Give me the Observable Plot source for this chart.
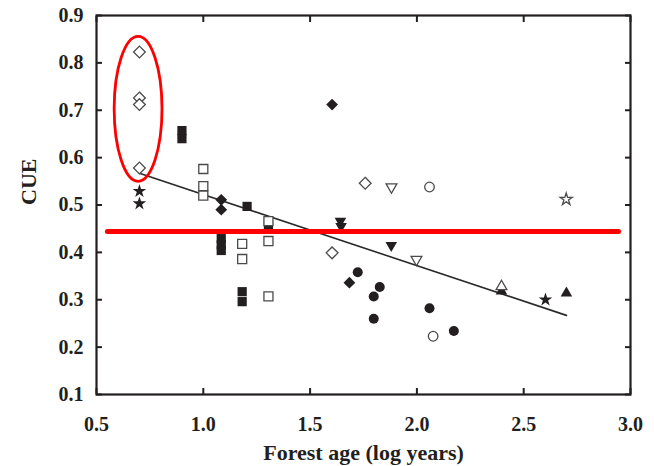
<!DOCTYPE html>
<html>
<head>
<meta charset="utf-8">
<script src="https://cdn.jsdelivr.net/npm/d3@7"></script>
<script src="https://cdn.jsdelivr.net/npm/@observablehq/plot@0.6"></script>
<style>
  html, body { margin: 0; padding: 0; background: #fff; }
</style>
</head>
<body>
<div id="chart"></div>
<script>
// ---- axis ticks ----
const xTicks = [0.5, 1.0, 1.5, 2.0, 2.5, 3.0];
const yTicks = [0.1, 0.2, 0.3, 0.4, 0.5, 0.6, 0.7, 0.8, 0.9];
const xTitle = "Forest age (log years)";
const yTitle = "CUE";

// ---- data series (forest age in log years, CUE) ----
const openDiamondX = [0.701, 0.701, 0.701, 0.701, 1.758, 1.603];
const openDiamondY = [0.823, 0.726, 0.712, 0.578, 0.546, 0.399];

const filledDiamondX = [1.084, 1.084, 1.603, 1.684];
const filledDiamondY = [0.511, 0.490, 0.712, 0.336];

const filledSquareX = [0.9, 0.9, 1.084, 1.084, 1.084, 1.205, 1.305, 1.182, 1.182];
const filledSquareY = [0.657, 0.640, 0.429, 0.416, 0.404, 0.497, 0.457, 0.317, 0.296];

const openSquareX = [1.0, 1.0, 1.0, 1.182, 1.182, 1.305, 1.305, 1.305];
const openSquareY = [0.576, 0.540, 0.520, 0.418, 0.386, 0.466, 0.424, 0.307];

const filledStarX = [0.701, 0.701, 2.602];
const filledStarY = [0.529, 0.503, 0.300];

const openStarX = [2.699];
const openStarY = [0.512];

const filledCircleX = [1.723, 1.826, 1.798, 1.798, 2.059, 2.173];
const filledCircleY = [0.358, 0.327, 0.307, 0.260, 0.282, 0.234];

const openCircleX = [2.059, 2.076];
const openCircleY = [0.538, 0.223];

const filledTriDownX = [1.642, 1.645, 1.880];
const filledTriDownY = [0.466, 0.455, 0.415];

const openTriDownX = [1.881, 1.998];
const openTriDownY = [0.538, 0.385];

const filledTriUpX = [2.396, 2.700];
const filledTriUpY = [0.318, 0.314];

const openTriUpX = [2.396];
const openTriUpY = [0.328];

// regression line end points
const fitX = [0.701, 2.700];
const fitY = [0.567, 0.267];

// red reference line
const refLineX = [0.551, 2.944];
const refLineY = [0.444, 0.444];

// red ellipse highlight (center and radii, data units)
const ellipseCenter = [0.697, 0.702];
const ellipseRadii = [0.112, 0.153];

// ---- styling ----
const ink = "#231f20";
const openStroke = "#4a4a4a";
const font = "'Liberation Serif', 'Times New Roman', serif";

function filled(xs, ys, symbol, r, extra = {}) {
  return Plot.dot(ys, {x: xs, y: ys, symbol, r, fill: ink, stroke: "none", ...extra});
}
function open(xs, ys, symbol, r, extra = {}) {
  return Plot.dot(ys, {x: xs, y: ys, symbol, r, fill: "white", stroke: openStroke, strokeWidth: 1.3, ...extra});
}

const ellipseMark = (index, scales) => {
  const cx = scales.x(ellipseCenter[0]);
  const cy = scales.y(ellipseCenter[1]);
  const rx = Math.abs(scales.x(ellipseCenter[0] + ellipseRadii[0]) - cx);
  const ry = Math.abs(scales.y(ellipseCenter[1] + ellipseRadii[1]) - cy);
  const el = document.createElementNS("http://www.w3.org/2000/svg", "ellipse");
  el.setAttribute("cx", cx);
  el.setAttribute("cy", cy);
  el.setAttribute("rx", rx);
  el.setAttribute("ry", ry);
  el.setAttribute("fill", "none");
  el.setAttribute("stroke", "#ff0000");
  el.setAttribute("stroke-width", 2.8);
  return el;
};

const chart = Plot.plot({
  width: 654,
  height: 466,
  marginTop: 15,
  marginBottom: 72,
  marginLeft: 96,
  marginRight: 24,
  style: {fontFamily: font, background: "white", color: ink},
  x: {domain: [0.5, 3.0]},
  y: {domain: [0.1, 0.9]},
  marks: [
    // tick labels
    Plot.axisX(xTicks, {anchor: "bottom", tickSize: 0, tickPadding: 22, tickFormat: d3.format(".1f"),
      fontSize: 20, fontWeight: "bold", fontFamily: font, fill: ink, label: null}),
    Plot.axisY(yTicks, {anchor: "left", tickSize: 0, tickPadding: 13, tickFormat: d3.format(".1f"),
      fontSize: 20, fontWeight: "bold", fontFamily: font, fill: ink, label: null}),
    // inward ticks on all four sides
    Plot.axisX(xTicks, {anchor: "bottom", tickSize: -6, tickFormat: () => "", stroke: ink, strokeWidth: 2, label: null}),
    Plot.axisX(xTicks, {anchor: "top", tickSize: -6, tickFormat: () => "", stroke: ink, strokeWidth: 2, label: null}),
    Plot.axisY(yTicks, {anchor: "left", tickSize: -6, tickFormat: () => "", stroke: ink, strokeWidth: 2, label: null}),
    Plot.axisY(yTicks, {anchor: "right", tickSize: -6, tickFormat: () => "", stroke: ink, strokeWidth: 2, label: null}),
    Plot.frame({stroke: ink, strokeWidth: 2.2}),
    // axis titles
    Plot.text([xTitle], {frameAnchor: "bottom", dy: 65, fontSize: 22, fontWeight: "bold", fontFamily: font, fill: ink}),
    Plot.text([yTitle], {frameAnchor: "left", dx: -68, rotate: -90, fontSize: 22, fontWeight: "bold", fontFamily: font, fill: ink}),
    // regression line
    Plot.line(fitY, {x: fitX, y: fitY, stroke: "#2a2a2a", strokeWidth: 1.6}),
    // points: filled first, open on top
    filled(filledSquareX, filledSquareY, "square", 5.2),
    filled(filledDiamondX, filledDiamondY, "diamond2", 5.3),
    filled(filledStarX, filledStarY, "star", 4.3),
    filled(filledCircleX, filledCircleY, "circle", 5),
    filled(filledTriDownX, filledTriDownY, "triangle", 4.3, {rotate: 180}),
    filled(filledTriUpX, filledTriUpY, "triangle", 4.3),
    open(openSquareX, openSquareY, "square", 5.1),
    open(openDiamondX, openDiamondY, "diamond2", 5.3),
    open(openStarX, openStarY, "star", 3.8),
    open(openCircleX, openCircleY, "circle", 4.8),
    open(openTriDownX, openTriDownY, "triangle", 4.0, {rotate: 180}),
    open(openTriUpX, openTriUpY, "triangle", 4.0),
    // red annotations
    Plot.line(refLineY, {x: refLineX, y: refLineY, stroke: "#ff0000", strokeWidth: 5}),
    ellipseMark
  ]
});
document.getElementById("chart").appendChild(chart);
</script>
</body>
</html>
